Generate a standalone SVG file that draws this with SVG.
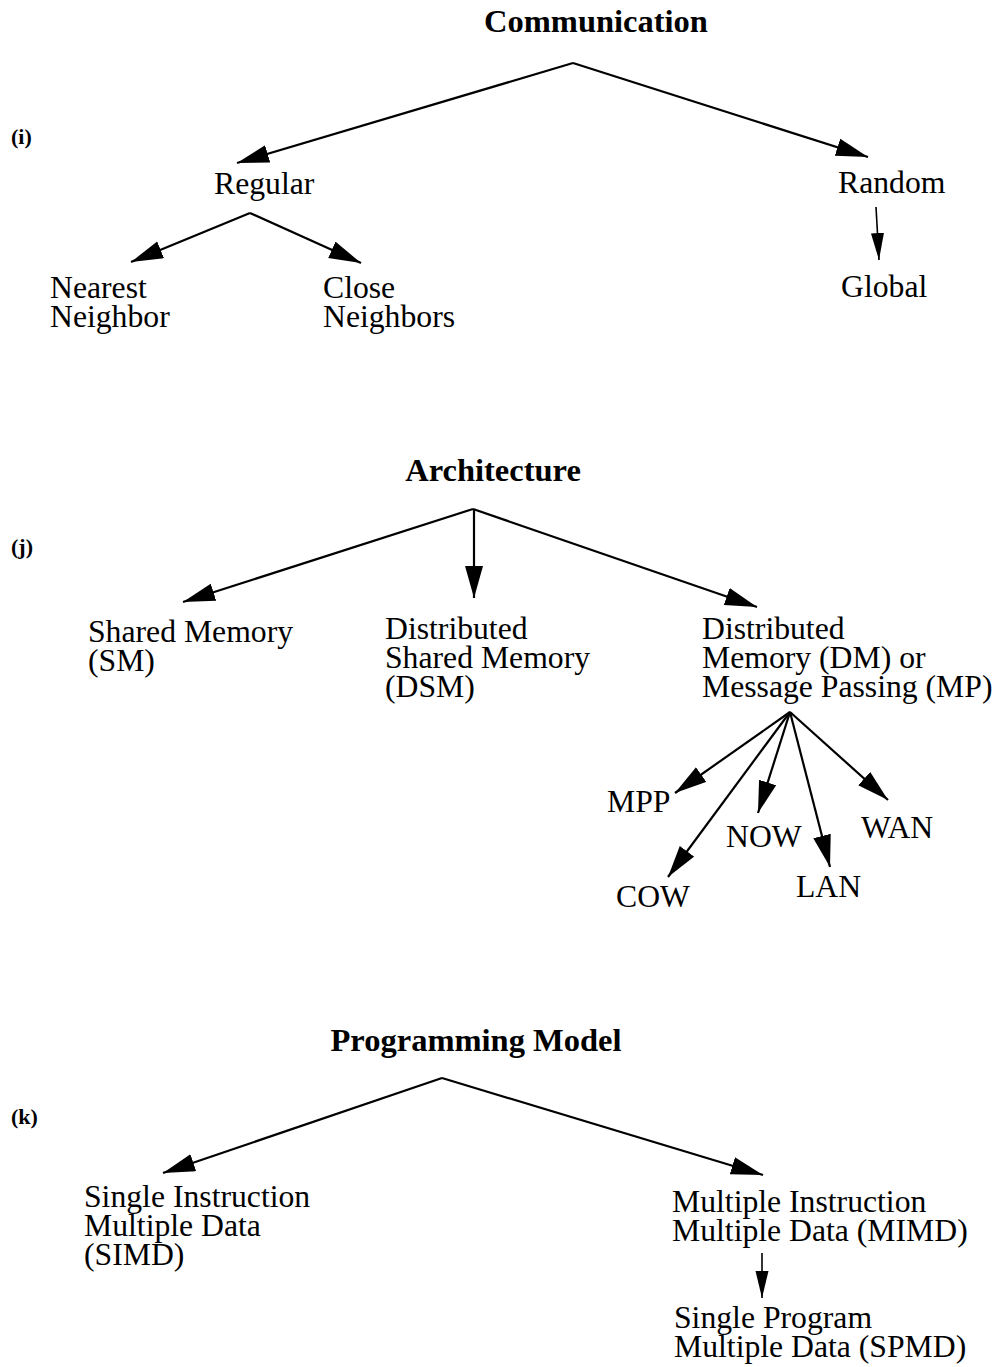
<svg xmlns="http://www.w3.org/2000/svg" width="999" height="1367" viewBox="0 0 999 1367">
<defs>
<style>
text{font-family:"Liberation Serif","Times New Roman",serif;fill:#000}
.title{font-size:32.5px;font-weight:bold}
.lbl{font-size:31.7px}
.tag{font-size:22px;font-weight:bold}
.edge{stroke:#000;stroke-width:2.2;fill:none;marker-end:url(#ah)}
.thin{stroke:#000;stroke-width:1.6;fill:none;marker-end:url(#ahs)}
</style>
<marker id="ah" markerUnits="userSpaceOnUse" markerWidth="32" markerHeight="20" refX="32" refY="9" orient="auto"><path d="M0,0 L32,9 L0,18 z" fill="#000"/></marker>
<marker id="ahs" markerUnits="userSpaceOnUse" markerWidth="27" markerHeight="14" refX="27" refY="6.5" orient="auto"><path d="M0,0 L27,6.5 L0,13 z" fill="#000"/></marker>
</defs>
<rect width="999" height="1367" fill="#fff"/>
<g id="connectors">
<line class="edge" x1="573" y1="63" x2="237" y2="163"/>
<line class="edge" x1="573" y1="63" x2="868" y2="157"/>
<line class="edge" x1="250" y1="213" x2="131" y2="262"/>
<line class="edge" x1="250" y1="213" x2="361" y2="263"/>
<line class="thin" x1="876" y1="207" x2="879" y2="260"/>
<line class="edge" x1="473" y1="509" x2="183" y2="602"/>
<line class="edge" x1="474" y1="509" x2="474" y2="598"/>
<line class="edge" x1="473" y1="509" x2="757" y2="607"/>
<line class="edge" x1="790" y1="712" x2="675" y2="793"/>
<line class="edge" x1="790" y1="712" x2="668" y2="877"/>
<line class="edge" x1="790" y1="712" x2="758" y2="813"/>
<line class="edge" x1="790" y1="712" x2="830" y2="867"/>
<line class="edge" x1="790" y1="712" x2="888" y2="800"/>
<line class="edge" x1="442" y1="1078" x2="163" y2="1173"/>
<line class="edge" x1="442" y1="1078" x2="763" y2="1175"/>
<line class="thin" x1="762" y1="1253" x2="762" y2="1298"/>
</g>
<g id="tag-i"><text class="tag" x="11" y="144">(i)</text></g>
<g id="tag-j"><text class="tag" x="11" y="554">(j)</text></g>
<g id="tag-k"><text class="tag" x="11" y="1124">(k)</text></g>
<g id="communication"><text class="title" x="596" y="32" text-anchor="middle">Communication</text></g>
<g id="regular"><text class="lbl" x="214" y="194">Regular</text></g>
<g id="random"><text class="lbl" x="838" y="193">Random</text></g>
<g id="nearest"><text class="lbl" x="50" y="298">Nearest</text><text class="lbl" x="50" y="327">Neighbor</text></g>
<g id="close"><text class="lbl" x="323" y="298">Close</text><text class="lbl" x="323" y="327">Neighbors</text></g>
<g id="global"><text class="lbl" x="841" y="297">Global</text></g>
<g id="architecture"><text class="title" x="493" y="481" text-anchor="middle">Architecture</text></g>
<g id="sm"><text class="lbl" x="88" y="642">Shared Memory</text><text class="lbl" x="88" y="671">(SM)</text></g>
<g id="dsm"><text class="lbl" x="385" y="639">Distributed</text><text class="lbl" x="385" y="668">Shared Memory</text><text class="lbl" x="385" y="697">(DSM)</text></g>
<g id="dm"><text class="lbl" x="702" y="639">Distributed</text><text class="lbl" x="702" y="668">Memory (DM) or</text><text class="lbl" x="702" y="697">Message Passing (MP)</text></g>
<g id="mpp"><text class="lbl" x="607" y="812">MPP</text></g>
<g id="now"><text class="lbl" x="726" y="847">NOW</text></g>
<g id="wan"><text class="lbl" x="861" y="838">WAN</text></g>
<g id="cow"><text class="lbl" x="616" y="907">COW</text></g>
<g id="lan"><text class="lbl" x="796" y="897">LAN</text></g>
<g id="programming"><text class="title" x="476" y="1051" text-anchor="middle">Programming Model</text></g>
<g id="simd"><text class="lbl" x="84" y="1207">Single Instruction</text><text class="lbl" x="84" y="1236">Multiple Data</text><text class="lbl" x="84" y="1265">(SIMD)</text></g>
<g id="mimd"><text class="lbl" x="672" y="1212">Multiple Instruction</text><text class="lbl" x="672" y="1241">Multiple Data (MIMD)</text></g>
<g id="spmd"><text class="lbl" x="674" y="1328">Single Program</text><text class="lbl" x="674" y="1357">Multiple Data (SPMD)</text></g>
</svg>
